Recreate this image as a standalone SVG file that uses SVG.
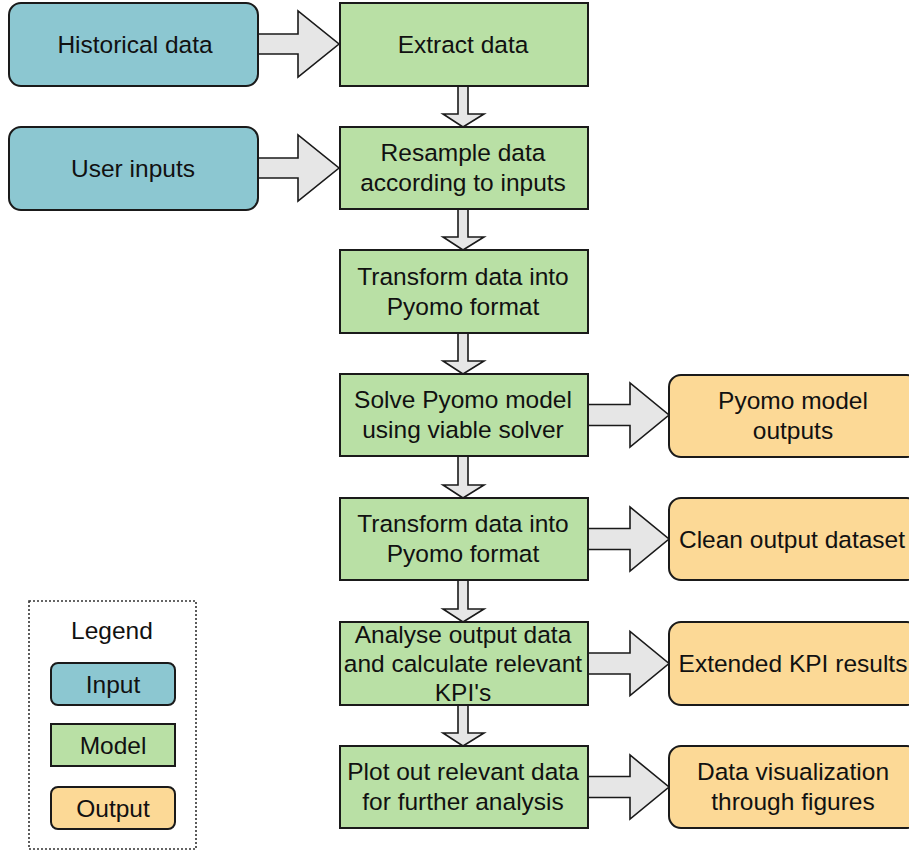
<svg xmlns="http://www.w3.org/2000/svg" width="909" height="852" viewBox="0 0 909 852">
<style>
.in{fill:#8CC7D1;stroke:#1a1a1a;stroke-width:2}
.md{fill:#B9E0A5;stroke:#1a1a1a;stroke-width:2}
.out{fill:#FCD996;stroke:#1a1a1a;stroke-width:2}
.ar{fill:#E6E6E6;stroke:#1a1a1a;stroke-width:1.6;stroke-linejoin:miter}
text{font-family:"Liberation Sans",Arial,sans-serif;font-size:24.5px;fill:#111;text-anchor:middle}
.leg{fill:none;stroke:#333;stroke-width:1.6;stroke-dasharray:2 2}
</style>
<rect width="909" height="852" fill="#fff"/>
<g id="connectors">
<polygon class="ar" points="258,34 298,34 298,11 339,44 298,77 298,54 258,54"/>
<polygon class="ar" points="258,158 298,158 298,135 339,168 298,201 298,178 258,178"/>
<polygon class="ar" points="458,86 468,86 468,114 484,114 463,127 443,114 458,114"/>
<polygon class="ar" points="458,209 468,209 468,237 484,237 463,250 443,237 458,237"/>
<polygon class="ar" points="458,333 468,333 468,361 484,361 463,374 443,361 458,361"/>
<polygon class="ar" points="458,456 468,456 468,485 484,485 463,498 443,485 458,485"/>
<polygon class="ar" points="458,580 468,580 468,609 484,609 463,622 443,609 458,609"/>
<polygon class="ar" points="458,705 468,705 468,733 484,733 463,746 443,733 458,733"/>
<polygon class="ar" points="588,404.5 630,404.5 630,383 669,415 630,447 630,425.5 588,425.5"/>
<polygon class="ar" points="588,528.5 630,528.5 630,507 669,539 630,571 630,549.5 588,549.5"/>
<polygon class="ar" points="588,653 630,653 630,631.5 669,663.5 630,695.5 630,674 588,674"/>
<polygon class="ar" points="588,776.5 630,776.5 630,755 669,787 630,819 630,797.5 588,797.5"/>
</g>
<g id="historical"><rect class="in" x="9" y="3" width="249" height="83" rx="12"/><text x="135" y="52.5">Historical data</text></g>
<g id="user"><rect class="in" x="9" y="127" width="249" height="83" rx="12"/><text x="133" y="176.5">User inputs</text></g>
<g id="extract"><rect class="md" x="340" y="3" width="248" height="83"/><text x="463" y="52.5">Extract data</text></g>
<g id="resample"><rect class="md" x="340" y="127" width="248" height="82"/><text x="463" y="161">Resample data</text><text x="463" y="191">according to inputs</text></g>
<g id="transform1"><rect class="md" x="340" y="250" width="248" height="83"/><text x="463" y="284.5">Transform data into</text><text x="463" y="314.5">Pyomo format</text></g>
<g id="solve"><rect class="md" x="340" y="374" width="248" height="82"/><text x="463" y="408">Solve Pyomo model</text><text x="463" y="438">using viable solver</text></g>
<g id="transform2"><rect class="md" x="340" y="498" width="248" height="82"/><text x="463" y="532">Transform data into</text><text x="463" y="562">Pyomo format</text></g>
<g id="analyse"><rect class="md" x="340" y="622" width="248" height="83"/><text x="463" y="642.5">Analyse output data</text><text x="463" y="671.5">and calculate relevant</text><text x="463" y="701">KPI's</text></g>
<g id="plot"><rect class="md" x="340" y="746" width="248" height="82"/><text x="463" y="780">Plot out relevant data</text><text x="463" y="810">for further analysis</text></g>
<g id="pyomo-out"><rect class="out" x="669" y="375" width="250" height="82" rx="12"/><text x="793" y="409">Pyomo model</text><text x="793" y="439">outputs</text></g>
<g id="clean"><rect class="out" x="669" y="498" width="250" height="82" rx="12"/><text x="792" y="547.5">Clean output dataset</text></g>
<g id="kpi"><rect class="out" x="669" y="622" width="250" height="83" rx="12"/><text x="793" y="672">Extended KPI results</text></g>
<g id="viz"><rect class="out" x="669" y="746" width="250" height="82" rx="12"/><text x="793" y="780">Data visualization</text><text x="793" y="810">through figures</text></g>
<g id="legend">
<rect class="leg" x="29" y="601" width="167" height="248"/>
<text x="112" y="639">Legend</text>
<rect class="in" x="51" y="663" width="124" height="42" rx="7"/><text x="113" y="692.5">Input</text>
<rect class="md" x="51" y="724" width="124" height="42"/><text x="113" y="753.5">Model</text>
<rect class="out" x="51" y="787" width="124" height="42" rx="7"/><text x="113" y="816.5">Output</text>
</g>
</svg>
